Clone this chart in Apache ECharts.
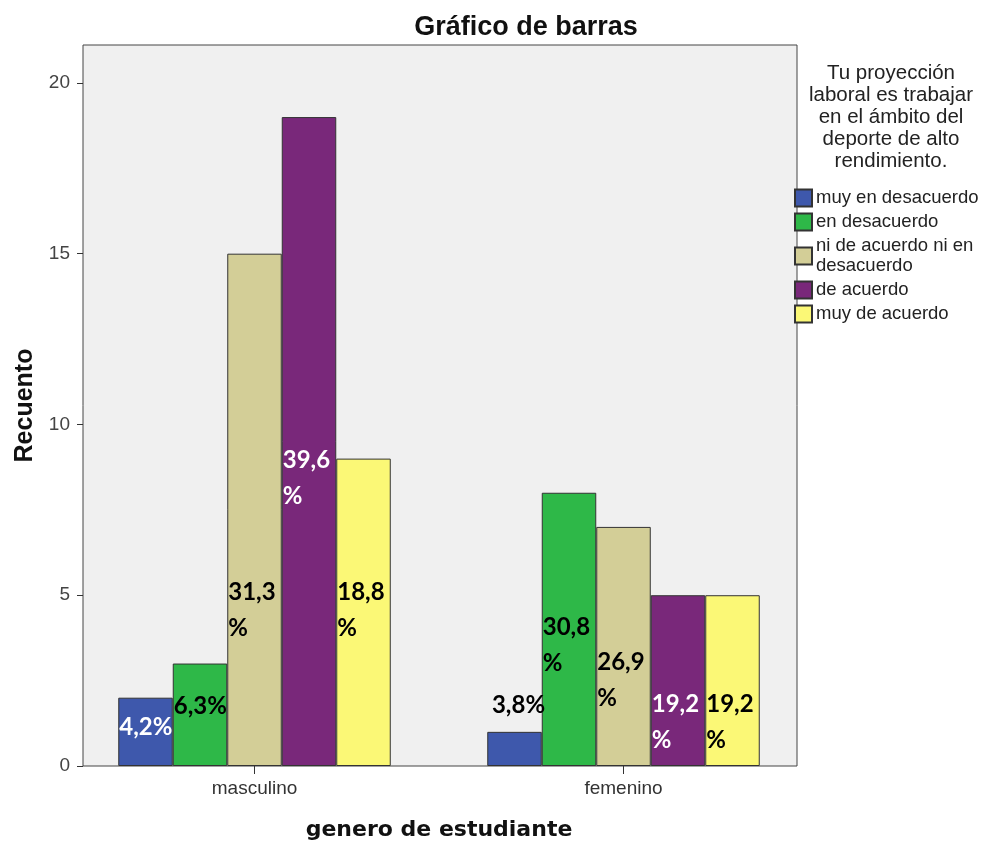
<!DOCTYPE html>
<html><head><meta charset="utf-8">
<script src="https://cdn.jsdelivr.net/npm/echarts@6/dist/echarts.min.js"></script>
<style>html,body{margin:0;padding:0;background:#fff}#c{width:988px;height:847px}</style>
</head><body><div id="c"></div>
<script>
const categories = ['masculino', 'femenino'];
const seriesNames = ['muy en desacuerdo', 'en desacuerdo', 'ni de acuerdo ni en\ndesacuerdo', 'de acuerdo', 'muy de acuerdo'];
const counts = [
  [2, 1],   // muy en desacuerdo
  [3, 8],   // en desacuerdo
  [15, 7],  // ni de acuerdo ni en desacuerdo
  [19, 5],  // de acuerdo
  [9, 5]    // muy de acuerdo
];
const percentLabels = [
  ['4,2%', '3,8%'],
  ['6,3%', '30,8\n%'],
  ['31,3\n%', '26,9\n%'],
  ['39,6\n%', '19,2\n%'],
  ['18,8\n%', '19,2\n%']
];
const yTicks = [0, 5, 10, 15, 20];

const colors = ['#3E58AC', '#2EB848', '#D3CE97', '#79287A', '#FBF876'];
const labelColors = ['#fff', '#000', '#000', '#fff', '#000'];
// label placement tweaks (style only)
const labelDy = [[-5, 0], [-9, 16], [100, 34], [37, 42], [-2, 42]];

const YMAX = 21.11;
const chart = echarts.init(document.getElementById('c'));

const series = seriesNames.map((name, s) => ({
  name, type: 'bar', xAxisIndex: 1, yAxisIndex: 1,
  barWidth: 54.5, barGap: '0%',
  itemStyle: { color: colors[s], borderColor: '#333', borderWidth: 1 },
  data: counts[s].map((v, c) => {
    const top = (s === 0 && c === 1);
    return {
      value: v,
      label: {
        show: true,
        formatter: percentLabels[s][c],
        position: top ? 'top' : 'insideLeft',
        distance: top ? 9 : 1,
        offset: top ? [4, 0] : [0, labelDy[s][c]],
        color: top ? '#000' : labelColors[s],
        fontFamily: 'Lato', fontWeight: 'bold', fontSize: 24, lineHeight: 36,
        align: top ? 'center' : 'left'
      }
    };
  })
}));

chart.setOption({
  animation: false,
  title: [
    { text: 'Gráfico de barras', left: 521, top: 9, textAlign: 'center',
      textStyle: { fontFamily: 'Liberation Sans', fontWeight: 'bold', fontSize: 27, color: '#111' } },
    { text: 'Tu proyección\nlaboral es trabajar\nen el ámbito del\ndeporte de alto\nrendimiento.', left: 886, top: 57, textAlign: 'center',
      textStyle: { fontFamily: 'Liberation Sans', fontWeight: 'normal', fontSize: 20.5, lineHeight: 22, color: '#222', align: 'center' } }
  ],
  legend: {
    orient: 'vertical', left: 789, top: 183, itemGap: 4,
    itemWidth: 17, itemHeight: 17, icon: 'rect',
    textStyle: { fontFamily: 'Liberation Sans', fontSize: 18.5, lineHeight: 20, color: '#222', padding: [0, 0, 0, -1] },
    data: seriesNames
  },
  grid: [
    { left: 83, right: 191, top: 45, bottom: 81, show: true, backgroundColor: '#f0f0f0', borderColor: '#444', borderWidth: 1 },
    { left: 70, right: 180, top: 45, bottom: 81 }
  ],
  xAxis: [
    { gridIndex: 0, type: 'value', show: false },
    { gridIndex: 1, type: 'category', data: categories,
      axisLine: { show: false },
      axisTick: { show: true, alignWithLabel: true, length: 8, lineStyle: { color: '#333' } },
      axisLabel: { color: '#333', fontFamily: 'Liberation Sans', fontSize: 19, margin: 13 },
      name: 'genero de estudiante', nameLocation: 'middle', nameGap: 53,
      nameTextStyle: { fontFamily: 'DejaVu Sans', fontWeight: 'bold', fontSize: 22, color: '#111' } }
  ],
  yAxis: [
    { gridIndex: 0, type: 'value', min: 0, max: YMAX,
      axisLine: { show: false },
      axisTick: { show: true, length: 6, customValues: yTicks, lineStyle: { color: '#333' } },
      axisLabel: { customValues: yTicks, color: '#444', fontFamily: 'Liberation Sans', fontSize: 19, margin: 13 },
      splitLine: { show: false },
      name: 'Recuento', nameLocation: 'middle', nameGap: 42, nameRotate: 90,
      nameTextStyle: { fontFamily: 'Liberation Sans', fontWeight: 'bold', fontSize: 25, color: '#111' } },
    { gridIndex: 1, type: 'value', min: 0, max: YMAX, show: false, splitLine: { show: false } }
  ],
  series
});
</script></body></html>
